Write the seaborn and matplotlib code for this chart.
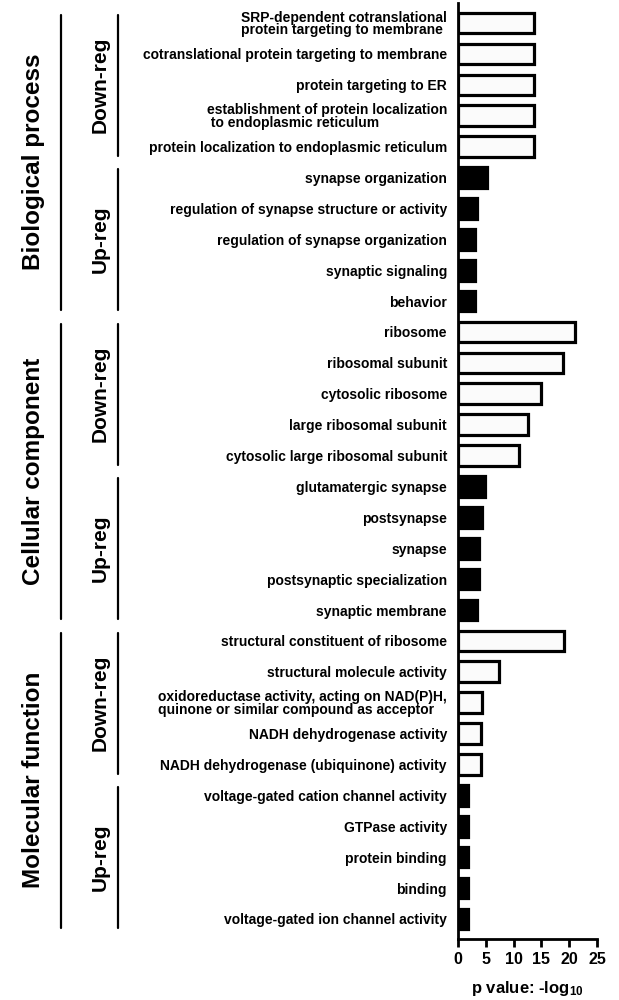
import matplotlib
matplotlib.use("Agg")
import matplotlib.pyplot as plt
import matplotlib.transforms as mtransforms
import pandas as pd
import seaborn as sns

# GO terms, top to bottom, 5 per block
bp_down_terms = ["SRP-dependent cotranslational\nprotein targeting to membrane ",
                 "cotranslational protein targeting to membrane",
                 "protein targeting to ER",
                 "establishment of protein localization\n to endoplasmic reticulum",
                 "protein localization to endoplasmic reticulum"]
bp_down_vals = [13.7, 13.7, 13.7, 13.6, 13.6]
bp_up_terms = ["synapse organization",
               "regulation of synapse structure or activity",
               "regulation of synapse organization",
               "synaptic signaling",
               "behavior"]
bp_up_vals = [5.2, 3.5, 3.1, 3.0, 3.0]
cc_down_terms = ["ribosome", "ribosomal subunit", "cytosolic ribosome",
                 "large ribosomal subunit", "cytosolic large ribosomal subunit"]
cc_down_vals = [21.0, 18.9, 14.9, 12.6, 11.0]
cc_up_terms = ["glutamatergic synapse", "postsynapse", "synapse",
               "postsynaptic specialization", "synaptic membrane"]
cc_up_vals = [4.8, 4.3, 3.8, 3.8, 3.5]
mf_down_terms = ["structural constituent of ribosome",
                 "structural molecule activity",
                 "oxidoreductase activity, acting on NAD(P)H,\nquinone or similar compound as acceptor",
                 "NADH dehydrogenase activity",
                 "NADH dehydrogenase (ubiquinone) activity"]
mf_down_vals = [19.1, 7.3, 4.25, 4.2, 4.2]
mf_up_terms = ["voltage-gated cation channel activity", "GTPase activity",
               "protein binding", "binding", "voltage-gated ion channel activity"]
mf_up_vals = [1.8, 1.8, 1.8, 1.8, 1.8]

categories = ["Biological process", "Cellular component", "Molecular function"]
directions = ["Down-reg", "Up-reg"]

blocks = [(bp_down_terms, bp_down_vals), (bp_up_terms, bp_up_vals),
          (cc_down_terms, cc_down_vals), (cc_up_terms, cc_up_vals),
          (mf_down_terms, mf_down_vals), (mf_up_terms, mf_up_vals)]

rows = []
for b, (terms, vals) in enumerate(blocks):
  for t, v in zip(terms, vals):
    rows.append({"term": t, "value": v, "category": categories[b // 2],
                 "direction": directions[b % 2]})
df = pd.DataFrame(rows)

sns.set_style("ticks")
plt.rcParams["font.family"] = ["Liberation Sans", "DejaVu Sans"]
plt.rcParams["font.weight"] = "bold"
for k in ["text.color", "axes.labelcolor", "xtick.color", "ytick.color", "axes.edgecolor"]:
  plt.rcParams[k] = "black"
plt.rcParams["mathtext.fontset"] = "custom"
plt.rcParams["mathtext.rm"] = "Liberation Sans:bold"
plt.rcParams["mathtext.it"] = "Liberation Sans:bold"
plt.rcParams["mathtext.bf"] = "Liberation Sans:bold"

fig = plt.figure(figsize=(6.19, 10), dpi=100)
ax = fig.add_axes([458 / 619, 1 - 939 / 1000, (597 - 458) / 619, (939 - 3) / 1000])

sns.barplot(data=df, x="value", y="term", hue="direction", orient="h",
            palette={"Down-reg": "#fbfbfb", "Up-reg": "black"}, dodge=False,
            width=0.67, edgecolor="black", linewidth=2.3, legend=False, ax=ax)

ax.set_xlim(0, 25)
ax.set_xticks([0, 5, 10, 15, 20, 25])
ax.set_ylim(len(df) - 0.35, -0.65)
ax.set_ylabel("")
ax.set_xlabel(r"p value: -log$_{10}$", fontsize=12, fontweight="bold", labelpad=9)
sns.despine(ax=ax)
for s in ["left", "bottom"]:
  ax.spines[s].set_linewidth(2)
ax.tick_params(axis="x", width=2, length=6, labelsize=11.5, pad=3)
ax.tick_params(axis="y", length=0, labelsize=10, pad=8)
for lab in ax.get_yticklabels():
  lab.set_fontweight("bold")
  lab.set_multialignment("left")
  lab.set_linespacing(0.9)
for lab in ax.get_xticklabels():
  lab.set_fontweight("bold")

# bracket lines and group labels on the left
trans = mtransforms.blended_transform_factory(fig.transFigure, ax.transData)
for b in range(6):
  y0, y1 = b * 5 - 0.27, b * 5 + 4 + 0.3
  ax.plot([118 / 619, 118 / 619], [y0, y1], color="black", lw=1.6,
          transform=trans, clip_on=False)
  ax.text(100 / 619, b * 5 + 2, directions[b % 2], rotation=90, ha="center",
          va="center", fontsize=15, fontweight="bold", transform=trans)
for c in range(3):
  y0, y1 = c * 10 - 0.27, c * 10 + 9 + 0.3
  ax.plot([60.7 / 619, 60.7 / 619], [y0, y1], color="black", lw=1.6,
          transform=trans, clip_on=False)
  ax.text(33.5 / 619, c * 10 + 4.5, categories[c], rotation=90, ha="center",
          va="center", fontsize=17.5, fontweight="bold", transform=trans)

fig.savefig("out.png", dpi=100)
